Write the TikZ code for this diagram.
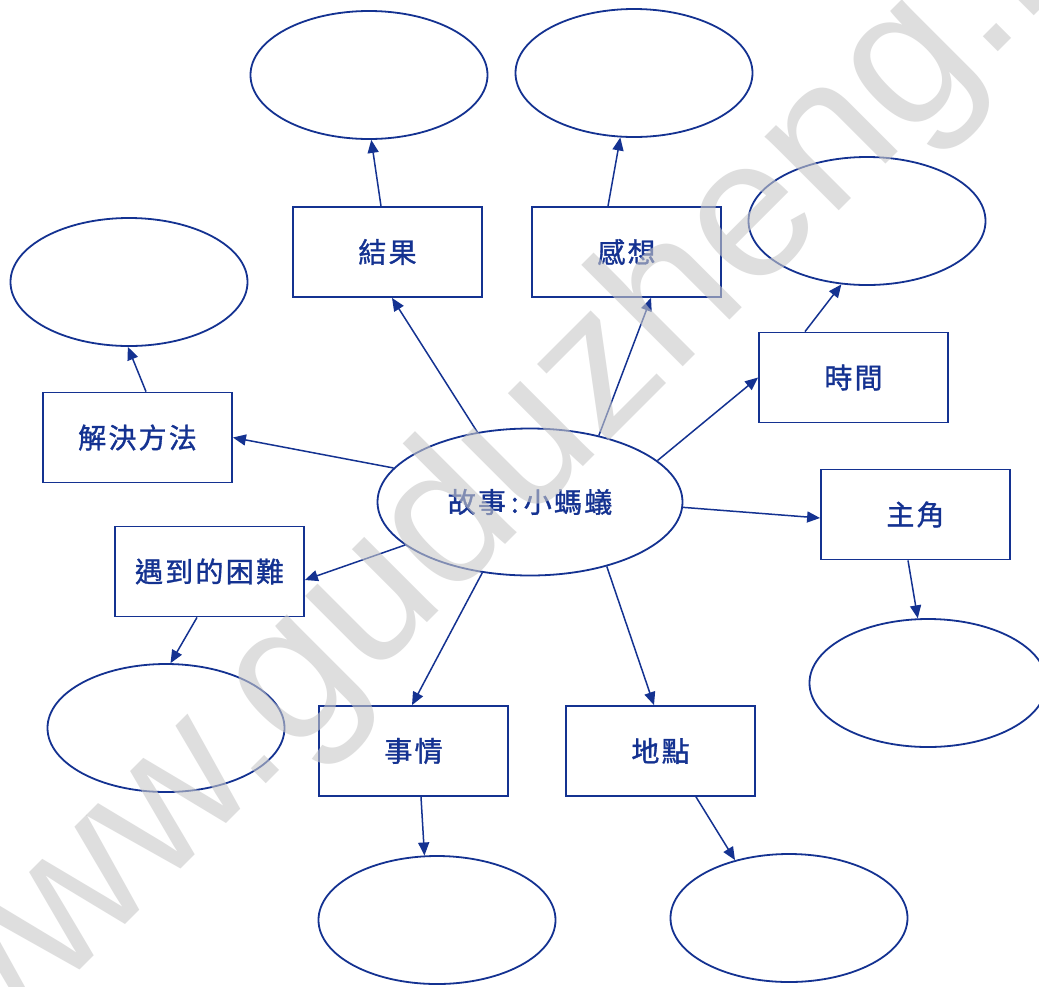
\documentclass[tikz,border=0pt]{standalone}
\usepackage{fontspec}
\newfontfamily\cjk{Noto Sans CJK TC}[LetterSpace=8,FakeBold=1.2]
\newfontfamily\wmfont{Liberation Sans}
\usetikzlibrary{shapes.geometric,arrows.meta}
\definecolor{dblue}{RGB}{20,50,145}
\definecolor{wmgray}{RGB}{200,200,200}
\begin{document}
\begin{tikzpicture}[x=1pt,y=-1pt,
  box/.style={draw=dblue,line width=1.8pt,minimum width=189pt,minimum height=90pt,inner sep=0pt,
    font=\cjk\fontsize{28}{30}\selectfont,text=dblue},
  oval/.style={draw=dblue,line width=1.8pt,ellipse,minimum width=237pt,minimum height=128pt,inner sep=0pt},
  arr/.style={draw=dblue,line width=1.5pt,-{Triangle[length=13pt,width=11pt]}},
  wm/.style={font=\wmfont\fontsize{198}{198}\selectfont,text=wmgray,opacity=0.6,rotate=45,anchor=base west,inner sep=0pt}]
\useasboundingbox[fill=white] (0,0) rectangle (1039,986);
% central ellipse
\node[oval,minimum width=305pt,minimum height=147pt,font=\cjk\fontsize{28}{30}\selectfont,text=dblue] (cen) at (530,502)
  {\raisebox{-5pt}{故事\kern5pt:\kern5pt小螞蟻}};
% boxes
\node[box] (res) at (387.5,252) {結果};
\node[box] (feel) at (626.5,252) {感想};
\node[box] (time) at (853.5,377.5) {時間};
\node[box] (sol) at (137.5,437.5) {解決方法};
\node[box] (role) at (915.5,514.5) {主角};
\node[box] (diff) at (209.5,571.5) {遇到的困難};
\node[box] (evt) at (413.5,751) {事情};
\node[box] (plc) at (660.5,751) {地點};
% outer ellipses
\node[oval] (eres) at (369,75) {};
\node[oval] (efeel) at (634,73) {};
\node[oval] (etime) at (867,221) {};
\node[oval] (esol) at (129,282) {};
\node[oval] (erole) at (928,683) {};
\node[oval] (ediff) at (166,728) {};
\node[oval] (eevt) at (437,920) {};
\node[oval] (eplc) at (789,918) {};
% centre to boxes
\draw[arr] (cen.127) -- ([xshift=4.5pt]res.south);
\draw[arr] (cen.44) -- ([xshift=24.5pt]feel.south);
\draw[arr] (cen.18) -- (time.west);
\draw[arr] (cen.166) -- (sol.east);
\draw[arr] (cen.358) -- ([yshift=-3.5pt]role.west);
\draw[arr] (cen.199) -- ([yshift=-8.5pt]diff.east);
\draw[arr] (cen.236) -- ([xshift=-1.5pt]evt.north);
\draw[arr] (cen.320) -- ([xshift=-6.5pt]plc.north);
% boxes to outer ellipses
\draw[arr] ([xshift=-6.5pt]res.north) -- (eres.272);
\draw[arr] ([xshift=-18.5pt]feel.north) -- (efeel.258);
\draw[arr] ([xshift=-48.5pt]time.north) -- (etime.248);
\draw[arr] ([xshift=8.5pt]sol.north) -- (esol.269);
\draw[arr] ([xshift=-7.5pt]role.south) -- (erole.99);
\draw[arr] ([xshift=-12.5pt]diff.south) -- (ediff.86);
\draw[arr] ([xshift=7.5pt]evt.south) -- (eevt.101);
\draw[arr] ([xshift=35.5pt]plc.south) -- (eplc.133);
% watermark
\begin{scope}
\clip (0,0) rectangle (1039,986);
\node[wm] (mark) at (-42,1092) {www.guduzheng.net};
\end{scope}
\end{tikzpicture}
\end{document}
